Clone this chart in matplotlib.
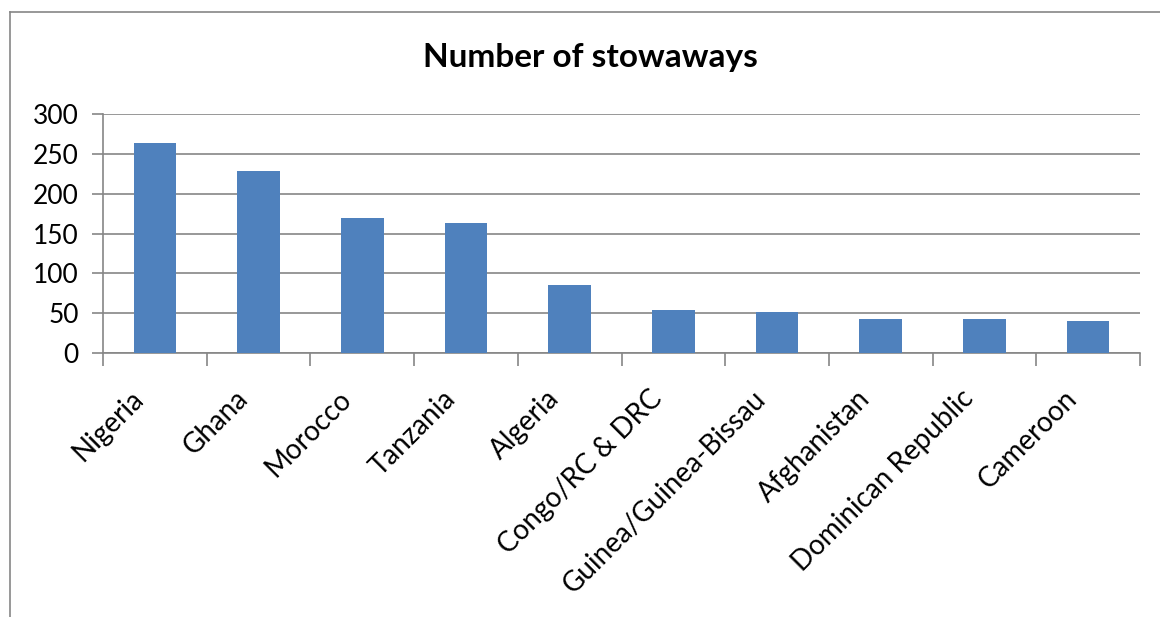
import matplotlib
matplotlib.use("Agg")
import matplotlib.pyplot as plt
from matplotlib.lines import Line2D
import matplotlib.transforms as mtransforms

categories = ["Nigeria", "Ghana", "Morocco", "Tanzania", "Algeria",
              "Congo/RC & DRC", "Guinea/Guinea-Bissau", "Afghanistan",
              "Dominican Republic", "Cameroon"]
values = [264, 228, 169, 163, 85, 54, 52, 43, 43, 40]
yticks = [0, 50, 100, 150, 200, 250, 300]
title = "Number of stowaways"

plt.rcParams['font.family'] = ['Lato', 'DejaVu Sans']

W, H = 1160, 617
fig = plt.figure(figsize=(W / 100, H / 100), dpi=100)
left, right, top, bottom = 103, 1140, 114, 353
ax = fig.add_axes([left / W, 1 - bottom / H, (right - left) / W, (bottom - top) / H])

x = list(range(len(categories)))
ax.bar(x, values, width=0.41, color="#4F81BD", zorder=3)
ax.set_xlim(-0.5, len(categories) - 0.5)
ax.set_ylim(0, 300)
ax.set_yticks(yticks)
ax.set_yticklabels([str(v) for v in yticks], fontsize=19)
ax.yaxis.grid(True, color="#868686", linewidth=1.2, zorder=0)
ax.set_axisbelow(True)

for s in ["top", "right"]:
    ax.spines[s].set_visible(False)
ax.spines["left"].set_color("#868686")
ax.spines["bottom"].set_color("#868686")
ax.spines["left"].set_linewidth(1.2)
ax.spines["bottom"].set_linewidth(1.2)
ax.tick_params(axis="y", length=8, width=1.2, color="#868686", pad=9.5)

# category tick marks between categories
ax.set_xticks([i - 0.5 for i in range(len(categories) + 1)])
ax.set_xticklabels([])
ax.tick_params(axis="x", which="major", length=9, width=1.2, color="#868686")
ax.set_xticks(x, minor=True)
ax.set_xticklabels(categories, minor=True, rotation=45, ha="right",
                   va="center", rotation_mode="anchor", fontsize=20)
ax.tick_params(axis="x", which="minor", length=0, pad=30)
offset = mtransforms.ScaledTranslation(-15 / 100, 0, fig.dpi_scale_trans)
for lab in ax.get_xticklabels(minor=True):
    lab.set_transform(lab.get_transform() + offset)

fig.text(590 / W, 1 - 58 / H, title, ha="center", va="center",
         fontsize=24, fontweight="bold")

# chart-area border (left and top visible)
fig.add_artist(Line2D([10 / W, 10 / W], [0, 1 - 12 / H], transform=fig.transFigure,
                      color="#868686", linewidth=1.2))
fig.add_artist(Line2D([10 / W, 1], [1 - 12 / H, 1 - 12 / H], transform=fig.transFigure,
                      color="#868686", linewidth=1.2))

fig.savefig("out.png", dpi=100)
